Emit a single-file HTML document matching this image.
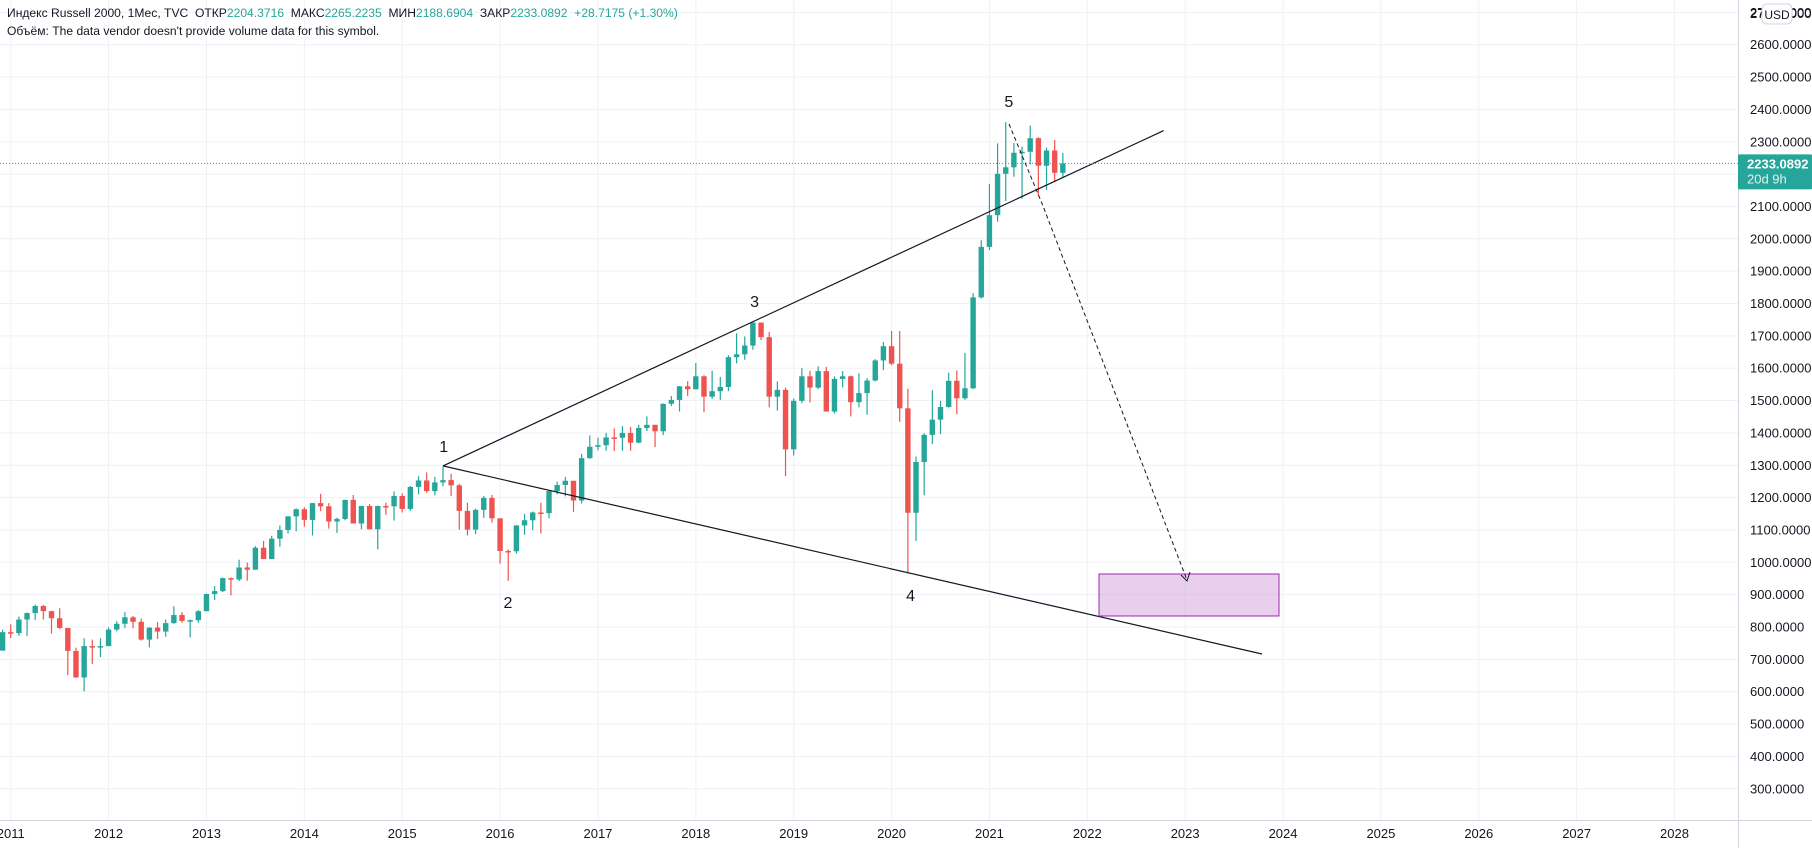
<!DOCTYPE html>
<html><head><meta charset="utf-8">
<style>
html,body{margin:0;padding:0;background:#fff;width:1812px;height:848px;overflow:hidden;font-family:"Liberation Sans","DejaVu Sans",sans-serif;}
svg{position:absolute;left:0;top:0;}
.hdr{position:absolute;left:7px;font-size:12.1px;color:#131722;white-space:nowrap;}
.g{color:#26a69a;}
</style></head><body>
<svg id="chart" width="1812" height="848"></svg>
<div class="hdr" style="top:6px">Индекс Russell 2000, 1Мес, TVC&nbsp; ОТКР<span class="g">2204.3716</span>&nbsp; МАКС<span class="g">2265.2235</span>&nbsp; МИН<span class="g">2188.6904</span>&nbsp; ЗАКР<span class="g">2233.0892</span>&nbsp; <span class="g">+28.7175 (+1.30%)</span></div>
<div class="hdr" style="top:24px">Объём: The data vendor doesn't provide volume data for this symbol.</div>
<script>
const months = 131; // Dec 2010 .. Oct 2021
const opens = [727,784,781,823,843,865,849,827,797,726,644,741,737,
741,792,810,830,816,761,798,786,812,837,819,821,
849,902,911,951,947,984,977,1045,1010,1073,1100,1142,
1164,1131,1183,1173,1126,1134,1193,1120,1174,1102,1174,1173,
1205,1165,1233,1253,1220,1247,1254,1238,1159,1101,1162,1199,
1136,1035,1034,1114,1130,1154,1152,1220,1239,1252,1191,1322,
1357,1362,1386,1385,1400,1370,1415,1425,1405,1490,1502,1544,
1535,1575,1512,1529,1542,1634,1643,1670,1741,1696,1512,1533,
1349,1499,1575,1540,1591,1466,1567,1575,1495,1523,1562,1624,
1668,1614,1476,1153,1310,1394,1441,1480,1561,1507,1538,1819,
1975,2073,2201,2221,2266,2269,2311,2226,2273,2204];
const highs = [792,808,832,845,869,868,850,858,797,736,765,761,765,
799,818,846,834,826,799,815,823,864,846,823,852,
903,926,953,953,1008,999,1050,1066,1082,1114,1143,1167,
1170,1183,1212,1183,1138,1193,1208,1175,1180,1175,1184,1219,
1213,1236,1266,1278,1264,1296,1274,1243,1184,1166,1205,1208,
1136,1040,1115,1150,1157,1184,1220,1249,1264,1252,1335,1392,
1385,1400,1414,1421,1418,1425,1451,1425,1491,1514,1545,1560,
1616,1578,1592,1573,1640,1708,1698,1742,1741,1712,1559,1540,
1506,1600,1592,1606,1604,1575,1591,1577,1584,1569,1628,1681,
1715,1715,1537,1327,1399,1532,1499,1586,1593,1647,1832,1996,
2169,2295,2361,2296,2285,2350,2314,2282,2305,2265];
const lows = [727,766,773,772,822,823,780,794,651,643,601,686,707,
741,787,797,796,758,737,763,770,810,813,768,813,
849,883,908,898,942,943,977,1010,1010,1048,1089,1096,
1110,1083,1158,1104,1091,1130,1120,1102,1102,1040,1147,1129,
1154,1159,1210,1215,1207,1235,1205,1101,1083,1087,1137,1123,
996,943,1027,1085,1099,1089,1136,1210,1204,1156,1182,1320,
1346,1345,1344,1345,1345,1368,1406,1356,1393,1483,1466,1514,
1534,1464,1505,1502,1529,1615,1626,1657,1687,1479,1469,1267,
1330,1492,1494,1535,1466,1460,1541,1451,1479,1456,1559,1594,
1609,1434,966,1066,1207,1366,1396,1478,1458,1502,1535,1815,
1965,2053,2117,2192,2124,2230,2133,2151,2175,2189];
const closes = [784,781,823,843,865,849,827,797,726,644,741,737,741,
792,810,830,816,761,798,786,812,837,819,821,849,
902,911,951,947,984,977,1045,1010,1073,1100,1142,1164,
1131,1183,1173,1126,1134,1193,1120,1174,1102,1174,1173,1205,
1165,1233,1253,1220,1247,1254,1238,1159,1101,1162,1199,1136,
1035,1034,1114,1130,1154,1152,1220,1239,1252,1191,1322,1357,
1362,1386,1385,1400,1370,1415,1425,1405,1490,1502,1544,1535,
1575,1512,1529,1542,1634,1643,1670,1741,1696,1512,1533,1349,
1499,1575,1540,1591,1466,1567,1575,1495,1523,1562,1624,1668,
1614,1476,1153,1310,1394,1441,1480,1561,1507,1538,1819,1975,
2073,2201,2221,2266,2269,2311,2226,2273,2204,2233];
const priceTicks = [300,400,500,600,700,800,900,1000,1100,1200,1300,1400,1500,1600,1700,1800,1900,2000,2100,2200,2300,2400,2500,2600,2700];
const yearTicks = [2011,2012,2013,2014,2015,2016,2017,2018,2019,2020,2021,2022,2023,2024,2025,2026,2027,2028];
const lastPrice = 2233.0892;
const waveLabels = ["1","2","3","4","5"];

const PLOT_R = 1738, AXIS_Y = 820;
const yOf = p => 691.7 - (p - 600) * 0.3235;
const xOfYear = y => 108.6 + (y - 2012) * 97.87;
const xOfIdx = i => xOfYear(2011) + (i - 1) * 97.87 / 12;
const xOfDate = (y, m) => xOfYear(y) + (m - 1) * 97.87 / 12;

const NS = "http://www.w3.org/2000/svg";
const svg = document.getElementById("chart");
function mk(tag, attrs, parent) {
  const e = document.createElementNS(NS, tag);
  for (const k in attrs) e.setAttribute(k, attrs[k]);
  (parent || svg).appendChild(e);
  return e;
}
const grid = mk("g", {});


priceTicks.forEach(p => {
  const y = yOf(p); if (y < 0 || y > AXIS_Y) return;
  const l = mk("line", {x1:0, x2:PLOT_R, y1:y, y2:y, stroke:"#eef1f6", "stroke-width":1}, grid);
  
  
});
yearTicks.forEach(yr => {
  const x = xOfYear(yr);
  const l = mk("line", {x1:x, x2:x, y1:0, y2:AXIS_Y, stroke:"#eef1f6", "stroke-width":1}, grid);
  
  
});
const pa = mk("line", {x1:PLOT_R+0.5, x2:PLOT_R+0.5, y1:0, y2:848, stroke:"#d1d4dc"});


const ta = mk("line", {x1:0, x2:1812, y1:AXIS_Y+0.5, y2:AXIS_Y+0.5, stroke:"#d1d4dc"});


priceTicks.forEach(p => {
  const y = yOf(p); if (y < 5 || y > AXIS_Y - 5) return;
  const t = mk("text", {x:1750, y:y+4.5, "font-size":13, fill:"#131722"});
  t.textContent = p.toFixed(4);
  
  
});
yearTicks.forEach(yr => {
  const t = mk("text", {x:xOfYear(yr), y:838, "font-size":13, fill:"#131722", "text-anchor":"middle"});
  t.textContent = yr;
  
  
});
const cg = mk("g", {});


for (let i = 0; i < closes.length; i++) {
  const x = xOfIdx(i), up = closes[i] >= opens[i];
  const col = up ? "#26a69a" : "#ef5350";
  const w = mk("line", {x1:x, x2:x, y1:yOf(highs[i]), y2:yOf(lows[i]), stroke:col, "stroke-width":1.2}, cg);
  
  
  const top = yOf(Math.max(opens[i], closes[i])), bot = yOf(Math.min(opens[i], closes[i]));
  const b = mk("rect", {x:x-2.7, y:top, width:5.4, height:Math.max(1.5, bot-top), fill:col}, cg);
  
  
}
const d = mk("g", {});


const P1 = [xOfDate(2015,6), yOf(1298)];
const up = mk("line", {x1:P1[0], y1:P1[1], x2:1163.7, y2:130.6, stroke:"#131722", "stroke-width":1.2}, d);


const lo = mk("line", {x1:P1[0], y1:P1[1], x2:1262, y2:654, stroke:"#131722", "stroke-width":1.2}, d);


const rect = mk("rect", {x:1099, y:574, width:180, height:42, fill:"rgba(206,147,216,0.45)", stroke:"#9c27b0", "stroke-width":1}, d);


const dash = mk("polyline", {points:"1009,124 1043,206 1187,580", fill:"none", stroke:"#131722", "stroke-width":1, "stroke-dasharray":"4,3"}, d);


const arr = mk("polyline", {points:"1181,575 1187,581 1190,572", fill:"none", stroke:"#131722", "stroke-width":1}, d);


const lp = [[443.7,452],[508,608],[754.6,307],[910.6,601],[1008.8,107]];
waveLabels.forEach((s, i) => {
  const t = mk("text", {x:lp[i][0], y:lp[i][1], "font-size":16, fill:"#131722", "text-anchor":"middle"}, d);
  t.textContent = s;
  
  
});
const ly = yOf(lastPrice);
const pl = mk("line", {x1:0, x2:PLOT_R, y1:ly, y2:ly, stroke:"#26a69a", "stroke-width":1, "stroke-dasharray":"1,2"});


const lb = mk("rect", {x:PLOT_R, y:ly-9, width:74, height:35, fill:"#26a69a", rx:1});


const lt = mk("text", {x:1747, y:ly+5, "font-size":13, fill:"#fff", "font-weight":"bold"});
lt.textContent = lastPrice.toFixed(4);


const ct = mk("text", {x:1747, y:ly+20, "font-size":13, fill:"#e0f2f1"});
ct.textContent = "20d 9h";


const tl = mk("text", {x:1750, y:18, "font-size":13, fill:"#131722"});
tl.textContent = "2700.0000";


const ub = mk("rect", {x:1762, y:4, width:30, height:20, rx:5, fill:"#fff", stroke:"#d1d4dc"});


const ut = mk("text", {x:1777, y:19, "font-size":12, fill:"#131722", "text-anchor":"middle"});
ut.textContent = "USD";


</script>
</body></html>
